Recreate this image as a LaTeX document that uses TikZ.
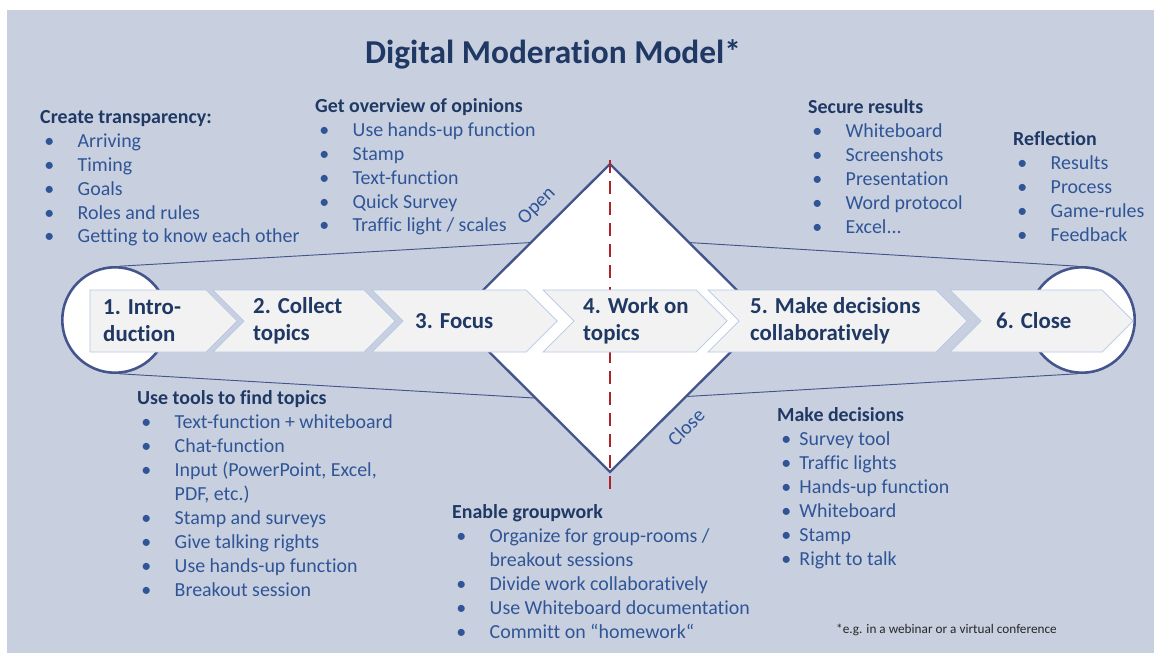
\documentclass[tikz,border=0pt]{standalone}
\usepackage{fontspec}
\setmainfont{Carlito}[Ligatures=NoCommon]
\usepackage{tikz}
\usetikzlibrary{calc}

\definecolor{bgblue}{RGB}{200,208,224}
\definecolor{navy}{RGB}{31,56,100}
\definecolor{txtblue}{RGB}{47,85,150}
\definecolor{edgeblue}{RGB}{68,84,140}
\definecolor{chevfill}{RGB}{242,242,242}
\definecolor{chevline}{RGB}{180,199,231}
\definecolor{dashred}{RGB}{175,35,40}

\newcommand{\hd}[1]{{\bfseries\color{navy}#1}}
\newcommand{\bul}{\hspace*{3.5pt}\makebox[28.5pt][l]{\textbullet}}
\newcommand{\bulk}{\hspace*{3.5pt}\makebox[15.5pt][l]{\textbullet}}
\newcommand{\cont}{\hspace*{32pt}}
% chevron from notch x to tip x
\newcommand{\chev}[2]{\draw[chev] (#1,290) -- ({#2-31},290) -- (#2,321) -- ({#2-31},352) -- (#1,352) -- ({#1+31},321) -- cycle;}

\begin{document}
\begin{tikzpicture}[x=0.03cm,y=-0.03cm,
  list/.style={anchor=base west,align=left,inner sep=0pt,text=txtblue,
    font=\fontsize{17}{20.4}\selectfont},
  chev/.style={draw=chevline,line width=0.6pt,fill=chevfill},
  stage/.style={anchor=west,align=left,inner sep=0pt,text=navy,
    font=\bfseries\fontsize{19.5}{23}\selectfont},
  ring/.style={circle,draw=edgeblue,line width=2.2pt,fill=white,minimum size=90pt,inner sep=0pt},
  thinline/.style={edgeblue,line width=0.8pt},
  turned/.style={rotate=45,text=txtblue,font=\fontsize{17}{20}\selectfont}]
\useasboundingbox (0,0) rectangle (1154,653);
\fill[bgblue] (7,10) rectangle (1154,653);

% title
\node[anchor=base,text=navy,font=\bfseries\fontsize{28.5}{32}\selectfont] (title) at (553,64) {Digital Moderation Model*};

% diamond and circles
\coordinate (dt) at (610,164);
\coordinate (dr) at (765,318);
\coordinate (db) at (610,472);
\coordinate (dl) at (455,318);
\node[ring] (lc) at (115,320) {};
\node[ring] (rc) at (1082,320) {};
\draw[thinline] (lc.85) -- ($(dl)!0.49!(dt)$);
\draw[thinline] (lc.-85) -- ($(dl)!0.52!(db)$);
\draw[thinline] ($(dt)!0.51!(dr)$) -- (rc.95);
\draw[thinline] ($(db)!0.49!(dr)$) -- (rc.-95);
\draw[edgeblue,line width=2pt,fill=white,line join=miter] (dt) -- (dr) -- (db) -- (dl) -- cycle;
\draw[dashred,line width=2.5pt,dash pattern=on 11pt off 7pt] (610,160) -- (610,490);
\node[turned] (open) at (537,206) {Open};
\node[turned] (close) at (686,427) {Close};

% the six steps
\draw[chev] (90,290) -- (206,290) -- (237,321) -- (206,352) -- (90,352) -- cycle;
\chev{213}{395}
\chev{372}{557}
\chev{543}{727}
\chev{708}{967}
\chev{950}{1133}
\node[stage] (s1) at (103,321) {1. Intro-\\duction};
\node[stage] (s2) at (253,321) {2. Collect\\topics};
\node[stage] (s3) at (415,321) {3. Focus};
\node[stage] (s4) at (583,321) {4. Work on\\topics};
\node[stage] (s5) at (750,321) {5. Make decisions\\collaboratively};
\node[stage] (s6) at (996,321) {6. Close};

% lists (placed at the baseline of their last line)
\node[list] (transp) at (40,243) {\hd{Create transparency:}\\
  \bul Arriving\\ \bul Timing\\ \bul Goals\\ \bul Roles and rules\\ \bul Getting to know each other};
\node[list] (overview) at (315,232) {\hd{Get overview of opinions}\\
  \bul Use hands-up function\\ \bul Stamp\\ \bul Text-function\\ \bul Quick Survey\\ \bul Traffic light / scales};
\node[list] (secure) at (808,233) {\hd{Secure results}\\
  \bul Whiteboard\\ \bul Screenshots\\ \bul Presentation\\ \bul Word protocol\\ \bul Excel...};
\node[list] (reflect) at (1013,241) {\hd{Reflection}\\
  \bul Results\\ \bul Process\\ \bul Game-rules\\ \bul Feedback};
\node[list] (tools) at (137,596) {\hd{Use tools to find topics}\\
  \bul Text-function + whiteboard\\ \bul Chat-function\\ \bul Input (PowerPoint, Excel,\\ \cont PDF, etc.)\\
  \bul Stamp and surveys\\ \bul Give talking rights\\ \bul Use hands-up function\\ \bul Breakout session};
\node[list] (group) at (452,638) {\hd{Enable groupwork}\\
  \bul Organize for group-rooms /\\ \cont breakout sessions\\ \bul Divide work collaboratively\\
  \bul Use Whiteboard documentation\\ \bul Committ on “homework“};
\node[list] (decide) at (777,565) {\hd{Make decisions}\\
  \bulk Survey tool\\ \bulk Traffic lights\\ \bulk Hands-up function\\ \bulk Whiteboard\\ \bulk Stamp\\ \bulk Right to talk};

\node[anchor=base west,inner sep=0pt,text=black!85,font=\fontsize{11.3}{13}\selectfont] (note) at (836,633) {*e.g. in a webinar or a virtual conference};
\end{tikzpicture}
\end{document}
